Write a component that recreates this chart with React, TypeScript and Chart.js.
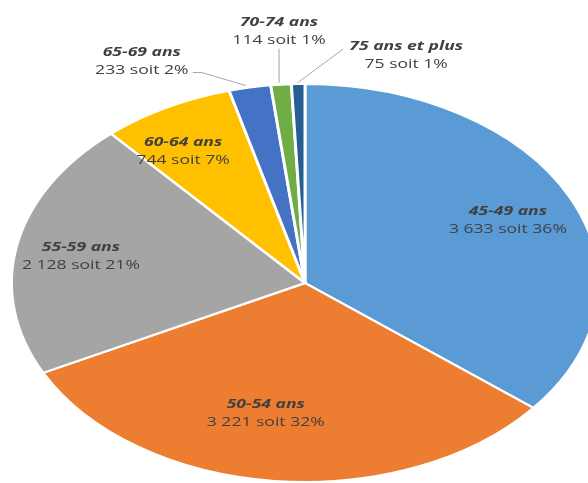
import React, { useEffect, useRef } from "react";
import { Chart, registerables } from "chart.js";

Chart.register(...registerables);

const categories = ["45-49 ans", "50-54 ans", "55-59 ans", "60-64 ans", "65-69 ans", "70-74 ans", "75 ans et plus"];
const counts = [3633, 3221, 2128, 744, 233, 114, 75];
const countLabels = ["3 633", "3 221", "2 128", "744", "233", "114", "75"];
const percentLabels = ["36%", "32%", "21%", "7%", "2%", "1%", "1%"];
const colors = ["#5B9BD5", "#ED7D31", "#A5A5A5", "#FFC000", "#4472C4", "#70AD47", "#255E91"];

const SX = 1.475; // horizontal stretch of the pie (ellipse)
const TEXT_K = 1.35; // horizontal stretch of the text
const TEXT_COLOR = "#404040";
const LEADER_COLOR = "#A6A6A6";

// label layout (not data): inside labels by polar fraction, outside by offsets from the arc edge
const inside: Record<number, { r: number; da: number }> = {
  0: { r: 0.76, da: 1 },
  1: { r: 0.67, da: 5.5 },
  2: { r: 0.775, da: -1 },
  3: { r: 0.78, da: -4 },
};
const outside: Record<number, { dx: number; dy: number; leader: [number, number][] }> = {
  4: { dx: -108, dy: -26, leader: [[-4, -2], [-48, -15], [-57, -15]] },
  5: { dx: -2, dy: -53, leader: [[-2, -2], [-2, -36]] },
  6: { dx: 108, dy: -29, leader: [[-1, -1], [45, -35]] },
};

function drawText(ctx: CanvasRenderingContext2D, text: string, x: number, y: number, font: string) {
  ctx.save();
  ctx.translate(x, y);
  ctx.scale(TEXT_K, 1);
  ctx.font = font;
  ctx.fillStyle = TEXT_COLOR;
  ctx.textAlign = "center";
  ctx.textBaseline = "middle";
  ctx.fillText(text, 0, 0);
  ctx.restore();
}

function drawBlock(ctx: CanvasRenderingContext2D, i: number, x: number, y: number) {
  drawText(ctx, categories[i], x, y - 9, "italic bold 13px 'Open Sans'");
  drawText(ctx, countLabels[i] + " soit " + percentLabels[i], x, y + 9, "13px 'Open Sans'");
}

const stretchPlugin = {
  id: "stretch",
  beforeDatasetsDraw(chart: any) {
    const arc = chart.getDatasetMeta(0).data[0];
    const ctx = chart.ctx;
    ctx.save();
    ctx.translate(arc.x, 0);
    ctx.scale(SX, 1);
    ctx.translate(-arc.x, 0);
  },
  afterDatasetsDraw(chart: any) {
    chart.ctx.restore();
  },
};

const labelPlugin = {
  id: "pieLabels",
  afterDraw(chart: any) {
    const ctx = chart.ctx as CanvasRenderingContext2D;
    const meta = chart.getDatasetMeta(0);
    meta.data.forEach((arc: any, i: number) => {
      const mid = (arc.startAngle + arc.endAngle) / 2;
      const cx = arc.x;
      const cy = arc.y;
      const R = arc.outerRadius;
      if (inside[i]) {
        const a = mid + (inside[i].da * Math.PI) / 180;
        const r = R * inside[i].r;
        drawBlock(ctx, i, cx + Math.cos(a) * r * SX, cy + Math.sin(a) * r);
      } else if (outside[i]) {
        const ax = cx + Math.cos(mid) * R * SX;
        const ay = cy + Math.sin(mid) * R;
        const o = outside[i];
        ctx.save();
        ctx.strokeStyle = LEADER_COLOR;
        ctx.lineWidth = 1;
        ctx.beginPath();
        o.leader.forEach(([lx, ly], k) => {
          if (k === 0) ctx.moveTo(ax + lx, ay + ly);
          else ctx.lineTo(ax + lx, ay + ly);
        });
        ctx.stroke();
        ctx.restore();
        drawBlock(ctx, i, ax + o.dx, ay + o.dy);
      }
    });
  },
};

export default function App() {
  const ref = useRef<HTMLCanvasElement>(null);
  useEffect(() => {
    if (!ref.current) return;
    const chart = new Chart(ref.current, {
      type: "pie",
      data: {
        labels: categories,
        datasets: [
          {
            data: counts,
            backgroundColor: colors,
            borderColor: "#FFFFFF",
            borderWidth: 2,
            clip: false,
          } as any,
        ],
      },
      options: {
        responsive: false,
        animation: false,
        devicePixelRatio: 1,
        layout: { padding: { left: 105, right: 83, top: 83, bottom: 0 } },
        plugins: { legend: { display: false }, tooltip: { enabled: false }, title: { display: false } },
      },
      plugins: [stretchPlugin, labelPlugin],
    });
    return () => chart.destroy();
  }, []);
  return (
    <div style={{ position: "absolute", left: 0, top: 0, width: 588, height: 483, background: "#fff" }}>
      <canvas ref={ref} width={588} height={483} style={{ display: "block" }} />
    </div>
  );
}
